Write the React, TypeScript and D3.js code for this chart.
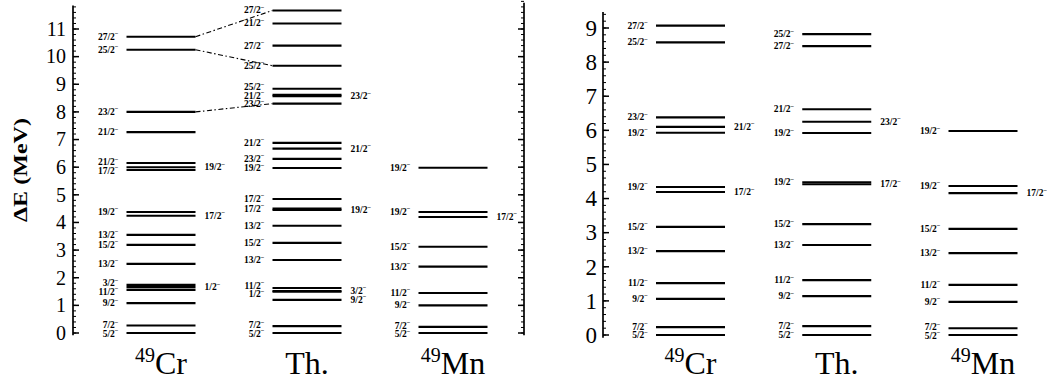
import React from "react";
import * as d3 from "d3";

type Side = "L" | "R";
type Level = [number, string, Side];

// ---------- data (MeV, spin label, label side) ----------
const categories = ["49Cr", "Th.", "49Mn"];

const leftCr: Level[] = [
  [0, "5/2", "L"], [0.27, "7/2", "L"], [1.08, "9/2", "L"], [1.56, "11/2", "L"],
  [1.66, "1/2", "R"], [1.74, "3/2", "L"], [2.5, "13/2", "L"], [3.19, "15/2", "L"],
  [3.55, "13/2", "L"], [4.24, "17/2", "R"], [4.38, "19/2", "L"], [5.9, "17/2", "L"],
  [6.0, "19/2", "R"], [6.15, "21/2", "L"], [7.27, "21/2", "L"], [8.0, "23/2", "L"],
  [10.25, "25/2", "L"], [10.72, "27/2", "L"],
];
const leftTh: Level[] = [
  [0, "5/2", "L"], [0.25, "7/2", "L"], [1.2, "9/2", "R"], [1.49, "1/2", "L"],
  [1.52, "3/2", "R"], [1.63, "11/2", "L"], [2.64, "13/2", "L"], [3.26, "15/2", "L"],
  [3.88, "13/2", "L"], [4.45, "19/2", "R"], [4.5, "17/2", "L"], [4.85, "17/2", "L"],
  [5.97, "19/2", "L"], [6.3, "23/2", "L"], [6.67, "21/2", "R"], [6.88, "21/2", "L"],
  [8.3, "23/2", "L"], [8.57, "23/2", "R"], [8.62, "21/2", "L"], [8.84, "25/2", "L"],
  [9.67, "25/2", "L"], [10.4, "27/2", "L"], [11.2, "21/2", "L"], [11.67, "27/2", "L"],
];
const leftMn: Level[] = [
  [0, "5/2", "L"], [0.22, "7/2", "L"], [1.0, "9/2", "L"], [1.45, "11/2", "L"],
  [2.4, "13/2", "L"], [3.12, "15/2", "L"], [4.2, "17/2", "R"], [4.38, "19/2", "L"],
  [5.98, "19/2", "L"],
];
const rightCr: Level[] = [
  [0, "5/2", "L"], [0.23, "7/2", "L"], [1.06, "9/2", "L"], [1.52, "11/2", "L"],
  [2.46, "13/2", "L"], [3.17, "15/2", "L"], [4.19, "17/2", "R"], [4.34, "19/2", "L"],
  [5.93, "19/2", "L"], [6.1, "21/2", "R"], [6.38, "23/2", "L"], [8.58, "25/2", "L"],
  [9.07, "27/2", "L"],
];
const rightTh: Level[] = [
  [0, "5/2", "L"], [0.26, "7/2", "L"], [1.14, "9/2", "L"], [1.61, "11/2", "L"],
  [2.64, "13/2", "L"], [3.25, "15/2", "L"], [4.42, "17/2", "R"], [4.48, "19/2", "L"],
  [5.92, "19/2", "L"], [6.25, "23/2", "R"], [6.62, "21/2", "L"], [8.47, "27/2", "L"],
  [8.82, "25/2", "L"],
];
const rightMn: Level[] = [
  [0, "5/2", "L"], [0.2, "7/2", "L"], [0.97, "9/2", "L"], [1.47, "11/2", "L"],
  [2.4, "13/2", "L"], [3.11, "15/2", "L"], [4.16, "17/2", "R"], [4.37, "19/2", "L"],
  [5.98, "19/2", "L"],
];
// dashed connections Cr -> Th (left panel), energies
const links: [number, number][] = [
  [10.72, 11.67],
  [10.25, 9.67],
  [8.0, 8.3],
];
const leftTicks = d3.range(0, 12);
const rightTicks = d3.range(0, 10);

// ---------- layout ----------
const W = 1047, H = 386;
const FONT = "Liberation Serif, Times New Roman, DejaVu Serif, serif";
const halfW = 34.5;

function resolve(ys: number[], gap: number): number[] {
  type Block = { start: number; n: number; sumAdj: number };
  const blocks: Block[] = [];
  ys.forEach((y, i) => {
    let cur: Block = { start: i, n: 1, sumAdj: y };
    while (blocks.length) {
      const prev = blocks[blocks.length - 1];
      const prevTop = prev.sumAdj / prev.n;
      const curTop = cur.sumAdj / cur.n;
      if (prevTop + prev.n * gap > curTop) {
        blocks.pop();
        cur = {
          start: prev.start,
          n: prev.n + cur.n,
          sumAdj: prev.sumAdj + cur.sumAdj - cur.n * prev.n * gap,
        };
      } else break;
    }
    blocks.push(cur);
  });
  const out: number[] = new Array(ys.length);
  blocks.forEach((b) => {
    const top = b.sumAdj / b.n;
    for (let k = 0; k < b.n; k++) out[b.start + k] = top + k * gap;
  });
  return out;
}

function SpinLabel({ x, y, text, anchor }: { x: number; y: number; text: string; anchor: string }) {
  return (
    <text x={x} y={y + 3} style={{ fontFamily: FONT }} fontWeight="bold" fontSize={9.5} textAnchor={anchor} fill="#000">
      <tspan>{text}</tspan>
      <tspan dy={-3.5} fontSize={6.5}>−</tspan>
    </text>
  );
}

function Column({ levels, cx, y }: { levels: Level[]; cx: number; y: d3.ScaleLinear<number, number> }) {
  const x0 = cx - halfW, x1 = cx + halfW;
  const labels: any[] = [];
  (["L", "R"] as Side[]).forEach((side) => {
    const items = levels.filter((l) => l[2] === side).map((l) => ({ y: y(l[0]), t: l[1] }));
    items.sort((a, b) => a.y - b.y);
    const pos = resolve(items.map((d) => d.y), 8.5);
    items.forEach((d, i) => {
      labels.push(
        <SpinLabel key={side + i} x={side === "L" ? x0 - 8 : x1 + 9} y={pos[i]} text={d.t} anchor={side === "L" ? "end" : "start"} />
      );
    });
  });
  return (
    <g>
      {levels.map((l, i) => (
        <line key={i} x1={x0} x2={x1} y1={y(l[0])} y2={y(l[0])} stroke="#000" strokeWidth={2.1} />
      ))}
      {labels}
    </g>
  );
}

function Axis({ x, y, ticks, dir, top, labels, fontSize, labelX }: {
  x: number; y: d3.ScaleLinear<number, number>; ticks: number[]; dir: 1 | -1; top: number;
  labels: boolean; fontSize: number; labelX: number;
}) {
  const minor = d3.range(0, Math.round(top * 5) + 1).map((i) => i / 5);
  return (
    <g>
      <line x1={x} x2={x} y1={y(-0.08)} y2={y(top)} stroke="#000" strokeWidth={1.7} />
      {minor.map((m, i) => (
        <line key={"m" + i} x1={x} x2={x + dir * 3} y1={y(m)} y2={y(m)} stroke="#000" strokeWidth={1} />
      ))}
      {ticks.map((t) => (
        <line key={"t" + t} x1={x} x2={x + dir * 6} y1={y(t)} y2={y(t)} stroke="#000" strokeWidth={1.5} />
      ))}
      {labels &&
        ticks.map((t) => (
          <text key={"l" + t} x={labelX} y={y(t) + fontSize * 0.34} style={{ fontFamily: FONT }} fontSize={fontSize} textAnchor="end" fill="#000">
            {t}
          </text>
        ))}
    </g>
  );
}

function CatLabel({ x, name }: { x: number; name: string }) {
  const m = name.match(/^(\d+)(.*)$/);
  if (m) {
    return (
      <text x={x} y={374} style={{ fontFamily: FONT }} fontSize={32} textAnchor="middle" fill="#000">
        <tspan fontSize={20} dy={-12}>{m[1]}</tspan>
        <tspan dy={12}>{m[2]}</tspan>
      </text>
    );
  }
  return (
    <text x={x} y={374} style={{ fontFamily: FONT }} fontSize={32} textAnchor="middle" fill="#000">
      {name}
    </text>
  );
}

export default function App() {
  const yL = d3.scaleLinear().domain([0, 11]).range([333, 29]);
  const yR = d3.scaleLinear().domain([0, 9]).range([335, 28]);
  const xL = d3.scalePoint<string>().domain(categories).range([161, 453]);
  const xR = d3.scalePoint<string>().domain(categories).range([690.5, 983]);
  const leftCols = [leftCr, leftTh, leftMn];
  const rightCols = [rightCr, rightTh, rightMn];
  const crX1 = (xL(categories[0]) as number) + halfW;
  const thX0 = (xL(categories[1]) as number) - halfW;

  return (
    <svg width={W} height={H} style={{ position: "absolute", left: 0, top: 0, background: "#fff" }}>
      <rect width={W} height={H} fill="#fff" />
      <text
        transform={`translate(27,170) rotate(-90)`}
        style={{ fontFamily: FONT }}
        fontWeight="bold"
        fontSize={19}
        textAnchor="middle"
        textLength={104}
        lengthAdjust="spacingAndGlyphs"
        fill="#000"
      >
        ΔE (MeV)
      </text>

      {/* left panel */}
      <Axis x={73} y={yL} ticks={leftTicks} dir={1} top={11.85} labels fontSize={20} labelX={66} />
      <Axis x={524} y={yL} ticks={leftTicks} dir={-1} top={11.95} labels={false} fontSize={20} labelX={0} />
      {links.map((l, i) => (
        <line
          key={i}
          x1={crX1}
          x2={thX0}
          y1={yL(l[0])}
          y2={yL(l[1])}
          stroke="#000"
          strokeWidth={1.1}
          strokeDasharray="5,2.5,1.5,2.5"
        />
      ))}
      {leftCols.map((lv, i) => (
        <Column key={i} levels={lv} cx={xL(categories[i]) as number} y={yL} />
      ))}
      {categories.map((c) => (
        <CatLabel key={"cl" + c} x={xL(c) as number} name={c} />
      ))}

      {/* right panel */}
      <Axis x={603} y={yR} ticks={rightTicks} dir={1} top={9.47} labels fontSize={23} labelX={597} />
      {rightCols.map((lv, i) => (
        <Column key={i} levels={lv} cx={xR(categories[i]) as number} y={yR} />
      ))}
      {categories.map((c) => (
        <CatLabel key={"cr" + c} x={xR(c) as number} name={c} />
      ))}
    </svg>
  );
}
